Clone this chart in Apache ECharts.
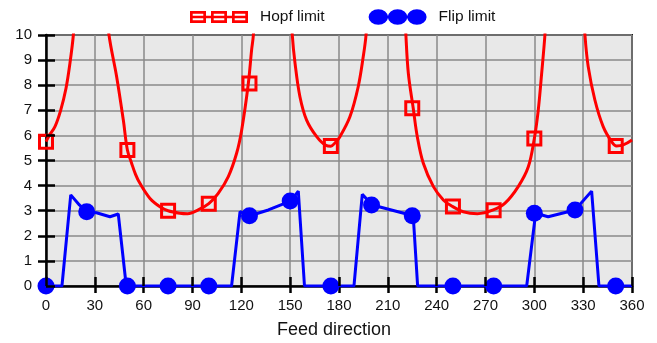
<!DOCTYPE html>
<html>
<head>
<meta charset="utf-8">
<script src="https://cdn.jsdelivr.net/npm/echarts@6/dist/echarts.min.js"></script>
<style>
  html, body { margin: 0; padding: 0; background: #fff; }
  #chart { width: 657px; height: 343px; }
</style>
</head>
<body>
<div id="chart"></div>
<script>
// Hopf limit curve (values above 10 leave the plot)
var hopfCurve = [
    [0, 5.75], [2, 6.0], [5.5, 6.35], [9, 7.0], [12.3, 7.88], [14.7, 8.87], [16.8, 10], [17.6, 11],
    [28, null],
    [37.8, 11], [38.7, 10], [43.4, 8.34], [47.5, 6.61], [50, 5.42], [52.6, 4.89], [55, 4.45],
    [57.7, 4.09], [63.9, 3.49], [70, 3.16], [75, 3.0], [82.3, 2.9], [87, 2.88], [93.5, 3.03],
    [100, 3.28], [105.8, 3.69], [112, 4.36], [117.1, 5.29], [120.2, 6.21], [124.3, 8.07],
    [126.3, 9.4], [127.4, 10], [128, 11],
    [140, null],
    [150.8, 11], [151.3, 10], [153, 8.87], [156, 7.54], [160.1, 6.61], [166.3, 5.95], [172, 5.6],
    [175, 5.57], [177.5, 5.7], [180.6, 5.95], [186.7, 6.74], [191.8, 7.94], [194.9, 9.14],
    [196.6, 10], [197.2, 11],
    [210, null],
    [220.6, 11], [221.1, 10], [222.6, 8.47], [225.6, 7.08], [228.1, 5.95], [231.8, 4.89],
    [238, 3.96], [244.1, 3.43], [249.2, 3.19], [256.3, 2.96], [265, 2.88], [274.8, 3.03],
    [282, 3.3], [290.1, 3.96], [296.3, 4.75], [300, 5.88], [302.4, 7.0], [304.5, 8.47],
    [306.5, 10], [307.2, 11],
    [320, null],
    [330.5, 11], [331.1, 10], [333.1, 8.74], [337.2, 7.41], [342.3, 6.35], [347.5, 5.75],
    [350.5, 5.58], [354.6, 5.62], [360, 5.82]
]
var hopfMarks = [
    [0, 5.75], [50, 5.42], [75, 3.0], [100, 3.28], [125, 8.07], [175, 5.58],
    [225, 7.08], [250, 3.17], [275, 3.02], [300, 5.88], [350, 5.58]
]

// Flip limit
var flipCurve = [
    [0, 0], [9.8, 0], [15.2, 3.63], [20.5, 3.23], [25, 2.96], [31, 2.92], [39.3, 2.76],
    [44.4, 2.87], [49.3, 0], [114, 0], [119.2, 2.96], [125.3, 2.8], [136.6, 3.03],
    [150.5, 3.39], [155, 3.78], [158.8, 0], [189.2, 0], [194.3, 3.65], [200.5, 3.23],
    [225.6, 2.8], [228.3, 0], [295.3, 0], [300.8, 2.9], [308.5, 2.76], [325, 3.03],
    [335.2, 3.78], [339.7, 0], [360, 0]
]
var flipMarks = [
    [0, 0], [25, 2.96], [50, 0], [75, 0], [100, 0], [125, 2.8], [150, 3.39], [175, 0],
    [200, 3.23], [225, 2.8], [250, 0], [275, 0], [300, 2.9], [325, 3.03], [350, 0]
]

var xName = 'Feed direction'
var legendNames = ['Hopf limit', 'Flip limit']

var FONT = "'Liberation Sans', Arial, sans-serif"

// legend icons: three hollow squares on a line, three dots on a line
var hopfIcon = 'path://M0 4.65H58V7.35H0Z' +
    'M0 0H16V12H0ZM2.7 2.7V9.3H13.3V2.7Z' +
    'M21 0H37V12H21ZM23.7 2.7V9.3H34.3V2.7Z' +
    'M42 0H58V12H42ZM44.7 2.7V9.3H55.3V2.7Z'
var flipIcon = 'path://M9.7 6.2H48.3V9.2H9.7Z' +
    'M0 7.7A9.7 7.7 0 1 1 19.4 7.7A9.7 7.7 0 1 1 0 7.7Z' +
    'M19.3 7.7A9.7 7.7 0 1 1 38.7 7.7A9.7 7.7 0 1 1 19.3 7.7Z' +
    'M38.6 7.7A9.7 7.7 0 1 1 58 7.7A9.7 7.7 0 1 1 38.6 7.7Z'

var chart = echarts.init(document.getElementById('chart'))

var option = {
    animation: false,
    textStyle: { fontFamily: FONT },
    legend: {
        left: 190,
        top: 9,
        padding: 0,
        itemWidth: 58,
        itemHeight: 15.4,
        itemGap: 44,
        itemStyle: { borderWidth: 0 },
        textStyle: { fontSize: 15.5, color: '#111', fontFamily: FONT, padding: [0, 0, 0, 7] },
        data: [
            { name: legendNames[0], icon: hopfIcon },
            { name: legendNames[1], icon: flipIcon }
        ]
    },
    grid: {
        left: 46,
        right: 25,
        top: 35,
        bottom: 57,
        outerBoundsMode: 'none',
        show: true,
        backgroundColor: '#e8e8e8',
        borderColor: '#1a1a1a',
        borderWidth: 2
    },
    xAxis: [
        {
            type: 'value',
            min: 0,
            max: 360,
            interval: 30,
            name: xName,
            nameLocation: 'middle',
            nameGap: 35,
            nameTextStyle: { fontSize: 18, color: '#111', padding: [0, 10, 0, 0] },
            axisLine: { lineStyle: { color: '#000', width: 2.5 } },
            axisTick: { show: true, inside: false, length: 7, lineStyle: { color: '#000', width: 2.5 } },
            axisLabel: { fontSize: 15, color: '#111', margin: 12 },
            splitLine: { show: true, lineStyle: { color: '#8a8a8a', width: 1.5 } }
        },
        {
            type: 'value',
            min: 0,
            max: 360,
            interval: 30,
            position: 'bottom',
            z: 10,
            axisLine: { show: false },
            axisTick: { show: true, inside: true, length: 9, lineStyle: { color: '#000', width: 2.5 } },
            axisLabel: { show: false },
            splitLine: { show: false }
        }
    ],
    yAxis: [
        {
            type: 'value',
            min: 0,
            max: 10,
            interval: 1,
            axisLine: { show: true, lineStyle: { color: '#000', width: 2.5 } },
            axisTick: { show: true, inside: false, length: 8, lineStyle: { color: '#000', width: 2.5 } },
            axisLabel: { fontSize: 15, color: '#111', margin: 14 },
            splitLine: { show: true, lineStyle: { color: '#8a8a8a', width: 1.5 } }
        },
        {
            type: 'value',
            min: 0,
            max: 10,
            interval: 1,
            position: 'left',
            z: 10,
            axisLine: { show: false },
            axisTick: { show: true, inside: true, length: 9, lineStyle: { color: '#000', width: 2.5 } },
            axisLabel: { show: false },
            splitLine: { show: false }
        }
    ],
    series: [
        {
            name: legendNames[0],
            type: 'line',
            data: hopfCurve,
            showSymbol: false,
            smooth: 0.35,
            connectNulls: false,
            color: '#ff0000',
            lineStyle: { color: '#ff0000', width: 3 }
        },
        {
            name: 'Hopf marks',
            type: 'scatter',
            data: hopfMarks,
            symbol: 'rect',
            symbolSize: 13,
            itemStyle: { color: 'rgba(0,0,0,0)', borderColor: '#ff0000', borderWidth: 3, opacity: 1 }
        },
        {
            name: legendNames[1],
            type: 'line',
            data: flipCurve,
            showSymbol: false,
            color: '#0000ff',
            lineStyle: { color: '#0000ff', width: 3 }
        },
        {
            name: 'Flip marks',
            type: 'scatter',
            data: flipMarks,
            symbol: 'circle',
            symbolSize: 17,
            itemStyle: { color: '#0000ff', opacity: 1 }
        }
    ]
}

chart.setOption(option, true)
</script>
</body>
</html>
